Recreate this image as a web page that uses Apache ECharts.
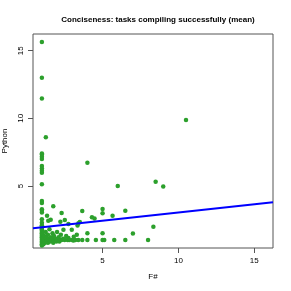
<!DOCTYPE html>
<html><head><meta charset="utf-8">
<script src="https://cdn.jsdelivr.net/npm/echarts@6/dist/echarts.min.js"></script>
<style>html,body{margin:0;padding:0;background:#fff}#c{width:291px;height:291px}</style>
</head><body><div id="c"></div>
<script>
const titleText = "Conciseness: tasks compiling successfully (mean)";
const xName = "F#";
const yName = "Python";
const xTicks = [5, 10, 15];
const yTicks = [5, 10, 15];
const axisMin = 0.414, axisMax = 16.236;

// scatter points: F# value, Python value
const fsharp = [
  1,1,1,1,1,1,1,1,1,1,1,1,1,1,1,1,1,1,1,1,1,1,1,1,1,1,1,1,1,1,1,1,1,1,1,
  1.1,1.1,1.15,1.2,1.2,1.25,1.3,1.3,1.35,1.4,1.4,1.45,1.5,1.5,1.55,1.6,1.65,1.7,1.75,1.8,1.8,1.9,1.95,2.0,2.0,2.1,2.15,2.2,2.25,2.3,2.4,2.42,2.5,2.6,2.7,2.75,2.8,2.97,3.0,3.08,3.1,3.2,3.3,3.4,
  1.26,1.75,1.34,2.3,1.42,1.58,2.22,2.51,2.75,3.41,3.5,3.35,
  4.0,6.0,3.66,5.0,5.0,5.66,6.5,4.3,4.47,4.0,5.0,7.0,8.35,10.5,8.5,9.0,
  3.66,4.0,4.56,5.0,5.11,5.77,6.5,8.0
];
const python = [
  15.65,13.0,11.47,7.4,7.33,7.16,7.0,6.47,6.3,6.13,5.98,5.12,3.89,3.74,3.28,3.17,3.03,2.54,2.29,2.1,2.0,1.9,1.8,1.7,1.6,1.5,1.4,1.3,1.2,1.1,1.0,0.9,0.8,0.7,0.6,
  0.7,1.0,1.3,0.8,1.0,1.6,0.9,1.2,1.0,0.8,1.4,1.1,1.0,1.8,0.9,1.2,1.0,1.5,0.8,1.0,1.3,1.1,0.9,1.0,1.6,1.2,0.9,1.0,1.4,1.0,1.1,1.77,1.0,1.3,1.0,1.16,1.0,1.77,1.0,0.96,1.25,1.0,1.4,1.0,
  8.6,3.5,2.8,3.0,2.42,2.5,2.35,2.49,2.19,2.25,2.34,2.07,
  6.72,5.0,3.15,3.3,2.98,2.8,3.17,2.68,2.6,1.5,1.5,1.48,1.98,9.87,5.31,4.97,
  1.0,1.0,1.0,1.0,1.0,1.0,1.0,1.0
];
// fitted regression line endpoints
const fitX = [0.414, 16.236];
const fitY = [1.87, 3.79];

const pts = fsharp.map((v, i) => [v, python[i]]);
const fit = fitX.map((v, i) => [v, fitY[i]]);

const chart = echarts.init(document.getElementById('c'), null, {renderer: 'canvas'});
const font = 'Liberation Sans, Arial, sans-serif';
chart.setOption({
  animation: false,
  backgroundColor: '#fff',
  title: {
    text: titleText, left: 153, top: 11, textAlign: 'center',
    textStyle: {fontFamily: font, fontSize: 8, fontWeight: 'bold', color: '#000'}
  },
  grid: {left: 33, top: 34, width: 240, height: 214, containLabel: false, outerBoundsMode: 'none',
    show: true, borderColor: '#555', borderWidth: 1, backgroundColor: 'transparent'},
  xAxis: {
    type: 'value', min: axisMin, max: axisMax,
    name: xName, nameLocation: 'middle', nameGap: 25,
    nameTextStyle: {fontFamily: font, fontSize: 8, color: '#000'},
    axisLine: {show: false},
    splitLine: {show: false},
    axisTick: {show: true, length: 5, lineStyle: {color: '#555'}, customValues: xTicks},
    axisLabel: {fontFamily: font, fontSize: 8, color: '#000', margin: 9, customValues: xTicks}
  },
  yAxis: {
    type: 'value', min: axisMin, max: axisMax,
    name: yName, nameLocation: 'middle', nameGap: 16,
    nameTextStyle: {fontFamily: font, fontSize: 8, color: '#000'},
    axisLine: {show: false},
    splitLine: {show: false},
    axisTick: {show: true, length: 5, lineStyle: {color: '#555'}, customValues: yTicks},
    axisLabel: {fontFamily: font, fontSize: 8, color: '#000', margin: 8, rotate: 90, customValues: yTicks}
  },
  series: [
    {type: 'scatter', data: pts, symbolSize: 4.5, itemStyle: {color: '#2ca02c', opacity: 1}},
    {type: 'line', data: fit, symbol: 'none', lineStyle: {color: '#0000ff', width: 2}, z: 3}
  ]
});
</script></body></html>
